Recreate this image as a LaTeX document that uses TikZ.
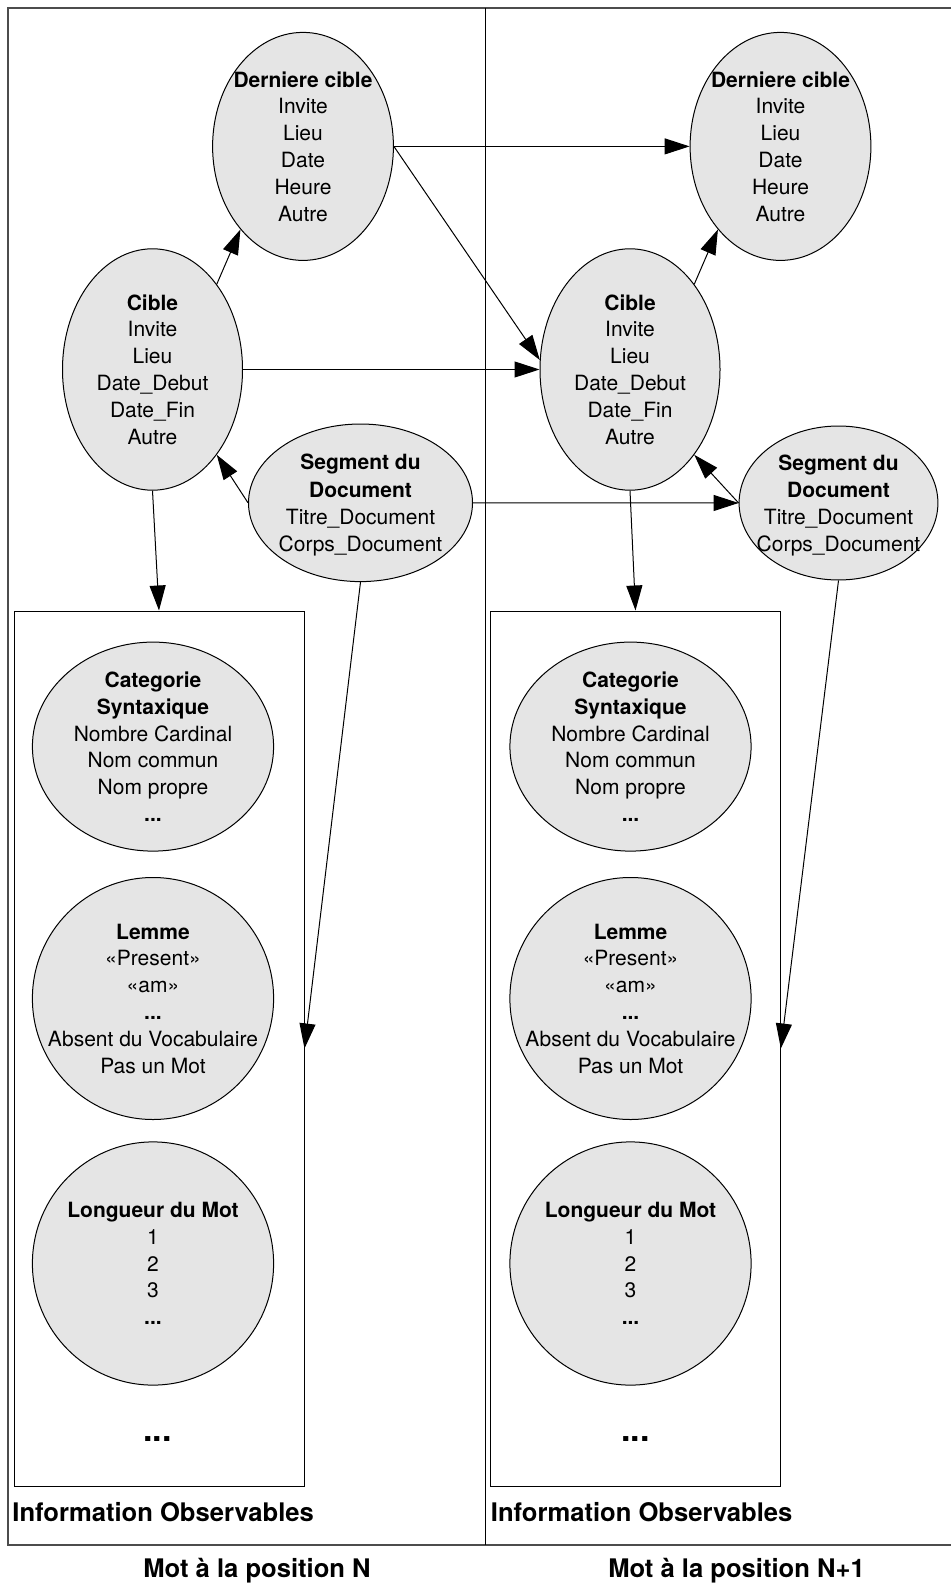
\documentclass[tikz,border=0pt]{standalone}
\usepackage{fontspec}
\setmainfont{TeX Gyre Heros}
\usetikzlibrary{shapes.geometric,arrows.meta}

\tikzset{
  etat/.style={ellipse, draw, fill=black!10, inner sep=0pt, line width=0.5pt},
  txt/.style={align=center, font=\fontsize{10.5}{13.4}\selectfont},
  fleche/.style={-{Triangle[length=12.5pt,width=8pt]}, line width=0.5pt},
  cadre/.style={draw, line width=0.5pt, inner sep=0pt},
  titre/.style={font=\bfseries\fontsize{12.8}{15}\selectfont, inner sep=0pt},
  points/.style={font=\bfseries\fontsize{17}{20}\selectfont, inner sep=0pt}
}

\begin{document}
\begin{tikzpicture}[x=0.5pt,y=-0.5pt]
  \useasboundingbox (0,0) rectangle (950,1583);
  \draw[black!70, line width=0.6pt] (8,8) rectangle (960,1545);
  \draw[line width=0.5pt] (485.5,8) -- (485.5,1545);

  % mot a la position N
  \node[etat, minimum width=90.4pt, minimum height=114pt,
        label={[txt]center:{\textbf{Derniere cible}\\Invite\\Lieu\\Date\\Heure\\Autre}}] (dernA) at (303,146.4) {};
  \node[etat, minimum width=90pt, minimum height=120.7pt,
        label={[txt]center:{\textbf{Cible}\\Invite\\Lieu\\Date\_Debut\\Date\_Fin\\Autre}}] (cibleA) at (152.5,369.5) {};
  \node[etat, minimum width=112pt, minimum height=78.8pt,
        label={[txt,yshift=-1.2pt,font=\fontsize{10.5}{13.6}\selectfont]center:{\textbf{Segment du}\\\textbf{Document}\\Titre\_Document\\Corps\_Document}}] (segA) at (360.5,502.8) {};
  \node[cadre, minimum width=145pt, minimum height=437.5pt] (boxA) at (159,1048.5) {};
  \node[etat, minimum width=120.6pt, minimum height=104.5pt,
        label={[txt]center:{\textbf{Categorie}\\\textbf{Syntaxique}\\Nombre Cardinal\\Nom commun\\Nom propre\\\textbf{...}}}] (catA) at (153,746.6) {};
  \node[etat, minimum width=120.6pt, minimum height=121pt,
        label={[txt]center:{\textbf{Lemme}\\«Present»\\«am»\\\textbf{...}\\Absent du Vocabulaire\\Pas un Mot}}] (lemA) at (153,998.5) {};
  \node[etat, minimum width=120.6pt, minimum height=121.6pt,
        label={[txt]center:{\textbf{Longueur du Mot}\\1\\2\\3\\\textbf{...}}}] (lonA) at (153,1263.5) {};
  \node[points] (ptsA) at (157.5,1439) {...};
  \node[titre, anchor=base west] (obsA) at (12,1521.5) {Information Observables};
  \node[titre, anchor=base] (motA) at (257,1577) {Mot à la position N};

  % mot a la position N+1
  \node[etat, minimum width=90.4pt, minimum height=114pt,
        label={[txt]center:{\textbf{Derniere cible}\\Invite\\Lieu\\Date\\Heure\\Autre}}] (dernB) at (780.5,146.4) {};
  \node[etat, minimum width=90pt, minimum height=120.7pt,
        label={[txt]center:{\textbf{Cible}\\Invite\\Lieu\\Date\_Debut\\Date\_Fin\\Autre}}] (cibleB) at (630,369.5) {};
  \node[etat, minimum width=99.4pt, minimum height=77pt,
        label={[txt,yshift=-1.2pt,font=\fontsize{10.5}{13.6}\selectfont]center:{\textbf{Segment du}\\\textbf{Document}\\Titre\_Document\\Corps\_Document}}] (segB) at (838.5,503) {};
  \node[cadre, minimum width=144.85pt, minimum height=437.5pt] (boxB) at (635.5,1048.5) {};
  \node[etat, minimum width=120.6pt, minimum height=104.5pt,
        label={[txt]center:{\textbf{Categorie}\\\textbf{Syntaxique}\\Nombre Cardinal\\Nom commun\\Nom propre\\\textbf{...}}}] (catB) at (630.5,746.6) {};
  \node[etat, minimum width=120.6pt, minimum height=121pt,
        label={[txt]center:{\textbf{Lemme}\\«Present»\\«am»\\\textbf{...}\\Absent du Vocabulaire\\Pas un Mot}}] (lemB) at (630.5,998.5) {};
  \node[etat, minimum width=120.6pt, minimum height=121.6pt,
        label={[txt]center:{\textbf{Longueur du Mot}\\1\\2\\3\\\textbf{...}}}] (lonB) at (630.5,1263.5) {};
  \node[points] (ptsB) at (635.5,1439) {...};
  \node[titre, anchor=base west] (obsB) at (490.5,1521.5) {Information Observables};
  \node[titre, anchor=base] (motB) at (736.5,1577) {Mot à la position N+1};

  % dependances
  \draw[fleche] (cibleA.53) -- (dernA.233);
  \draw[fleche] (dernA.east) -- (dernB.west);
  \draw[fleche] (dernA.east) -- (cibleB.174);
  \draw[fleche] (cibleA.east) -- (cibleB.west);
  \draw[fleche] (segA.west) -- (cibleA.-53);
  \draw[fleche] (segA.east) -- (segB.west);
  \draw[fleche] (cibleA.south) -- (boxA.north);
  \draw[fleche] (segA.south) -- (boxA.east);
  \draw[fleche] (cibleB.53) -- (dernB.233);
  \draw[fleche] (segB.west) -- (cibleB.-53);
  \draw[fleche] (cibleB.south) -- (boxB.north);
  \draw[fleche] (segB.south) -- (boxB.east);
\end{tikzpicture}
\end{document}
